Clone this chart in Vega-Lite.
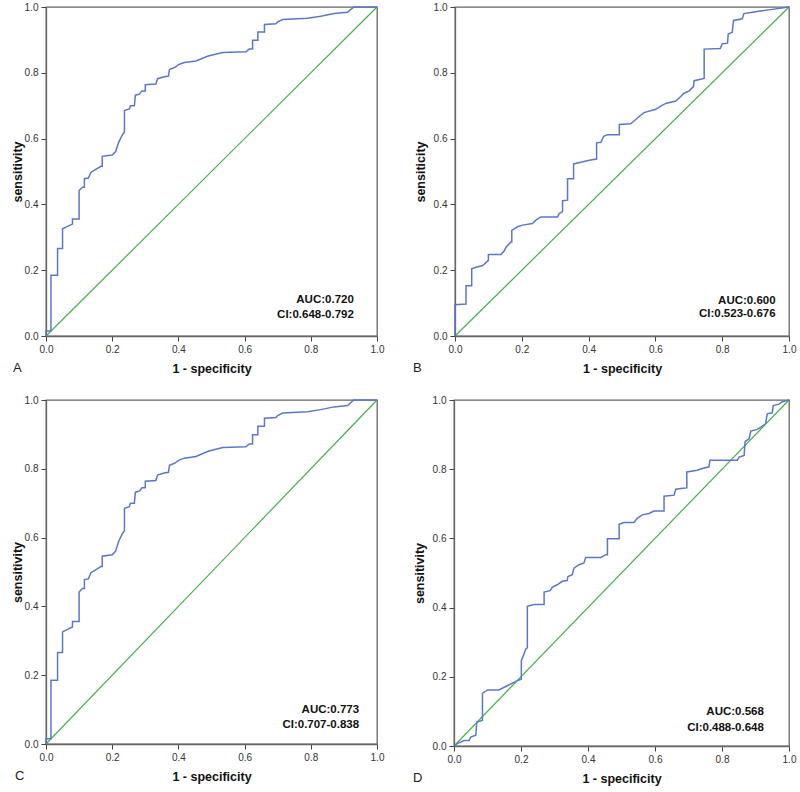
{
  "$schema": "https://vega.github.io/schema/vega-lite/v6.json",
  "background": "white",
  "padding": {"left": 10, "top": 1, "right": 5, "bottom": 2},
  "spacing": 18,
  "config": {
    "font": "Liberation Sans",
    "view": {"stroke": "#666666", "strokeWidth": 1.3},
    "axis": {
      "grid": false,
      "labelFont": "Liberation Sans",
      "labelFontSize": 10,
      "labelColor": "#333333",
      "labelPadding": 3,
      "labelFlush": false,
      "titleFont": "Liberation Sans",
      "titleFontSize": 12.5,
      "titleFontWeight": "bold",
      "titleColor": "#111111",
      "tickColor": "#444444",
      "tickSize": 5,
      "domainColor": "#666666",
      "domainWidth": 1.3
    },
    "axisX": {"titlePadding": 8},
    "axisY": {"titlePadding": 0},
    "title": {"font": "Liberation Sans", "fontSize": 13, "fontWeight": "normal", "color": "#222222"}
  },
  "datasets": {
    "diag": [{"x": 0, "y": 0}, {"x": 1, "y": 1}],
    "curveA": [
      {"x": 0, "y": 0}, {"x": 0, "y": 0.015}, {"x": 0.015, "y": 0.015}, {"x": 0.015, "y": 0.185}, {"x": 0.035, "y": 0.185}, {"x": 0.035, "y": 0.266}, {"x": 0.05, "y": 0.266}, {"x": 0.05, "y": 0.326}, {"x": 0.065, "y": 0.333}, {"x": 0.08, "y": 0.34}, {"x": 0.08, "y": 0.356}, {"x": 0.1, "y": 0.356}, {"x": 0.1, "y": 0.442}, {"x": 0.11, "y": 0.452}, {"x": 0.116, "y": 0.452}, {"x": 0.116, "y": 0.478}, {"x": 0.128, "y": 0.48}, {"x": 0.136, "y": 0.498}, {"x": 0.166, "y": 0.516}, {"x": 0.17, "y": 0.516}, {"x": 0.17, "y": 0.546}, {"x": 0.2, "y": 0.55}, {"x": 0.21, "y": 0.56}, {"x": 0.22, "y": 0.59}, {"x": 0.23, "y": 0.61}, {"x": 0.237, "y": 0.62}, {"x": 0.237, "y": 0.685}, {"x": 0.252, "y": 0.69}, {"x": 0.255, "y": 0.7}, {"x": 0.267, "y": 0.7}, {"x": 0.27, "y": 0.732}, {"x": 0.282, "y": 0.735}, {"x": 0.29, "y": 0.745}, {"x": 0.3, "y": 0.745}, {"x": 0.3, "y": 0.764}, {"x": 0.332, "y": 0.766}, {"x": 0.337, "y": 0.782}, {"x": 0.357, "y": 0.788}, {"x": 0.37, "y": 0.79}, {"x": 0.373, "y": 0.81}, {"x": 0.388, "y": 0.816}, {"x": 0.403, "y": 0.826}, {"x": 0.418, "y": 0.831}, {"x": 0.453, "y": 0.836}, {"x": 0.49, "y": 0.851}, {"x": 0.534, "y": 0.862}, {"x": 0.604, "y": 0.864}, {"x": 0.614, "y": 0.872}, {"x": 0.624, "y": 0.872}, {"x": 0.624, "y": 0.899}, {"x": 0.64, "y": 0.899}, {"x": 0.64, "y": 0.924}, {"x": 0.66, "y": 0.924}, {"x": 0.66, "y": 0.947}, {"x": 0.695, "y": 0.949}, {"x": 0.7, "y": 0.955}, {"x": 0.715, "y": 0.962}, {"x": 0.79, "y": 0.966}, {"x": 0.83, "y": 0.972}, {"x": 0.87, "y": 0.98}, {"x": 0.911, "y": 0.984}, {"x": 0.93, "y": 1.0}, {"x": 1, "y": 1}
    ],
    "curveB": [
      {"x": 0, "y": 0}, {"x": 0, "y": 0.095}, {"x": 0.033, "y": 0.097}, {"x": 0.033, "y": 0.153}, {"x": 0.05, "y": 0.153}, {"x": 0.05, "y": 0.204}, {"x": 0.063, "y": 0.209}, {"x": 0.083, "y": 0.214}, {"x": 0.1, "y": 0.23}, {"x": 0.1, "y": 0.248}, {"x": 0.138, "y": 0.248}, {"x": 0.148, "y": 0.26}, {"x": 0.153, "y": 0.27}, {"x": 0.167, "y": 0.286}, {"x": 0.17, "y": 0.286}, {"x": 0.17, "y": 0.321}, {"x": 0.187, "y": 0.332}, {"x": 0.202, "y": 0.337}, {"x": 0.232, "y": 0.342}, {"x": 0.242, "y": 0.352}, {"x": 0.257, "y": 0.362}, {"x": 0.307, "y": 0.362}, {"x": 0.312, "y": 0.372}, {"x": 0.322, "y": 0.378}, {"x": 0.322, "y": 0.411}, {"x": 0.337, "y": 0.413}, {"x": 0.337, "y": 0.478}, {"x": 0.355, "y": 0.478}, {"x": 0.355, "y": 0.523}, {"x": 0.377, "y": 0.528}, {"x": 0.402, "y": 0.534}, {"x": 0.424, "y": 0.538}, {"x": 0.424, "y": 0.587}, {"x": 0.437, "y": 0.589}, {"x": 0.445, "y": 0.607}, {"x": 0.457, "y": 0.612}, {"x": 0.492, "y": 0.612}, {"x": 0.492, "y": 0.643}, {"x": 0.526, "y": 0.645}, {"x": 0.541, "y": 0.658}, {"x": 0.556, "y": 0.671}, {"x": 0.566, "y": 0.679}, {"x": 0.601, "y": 0.689}, {"x": 0.616, "y": 0.699}, {"x": 0.631, "y": 0.707}, {"x": 0.661, "y": 0.714}, {"x": 0.676, "y": 0.728}, {"x": 0.686, "y": 0.738}, {"x": 0.701, "y": 0.745}, {"x": 0.714, "y": 0.758}, {"x": 0.716, "y": 0.776}, {"x": 0.746, "y": 0.783}, {"x": 0.746, "y": 0.872}, {"x": 0.794, "y": 0.874}, {"x": 0.8, "y": 0.888}, {"x": 0.816, "y": 0.89}, {"x": 0.818, "y": 0.918}, {"x": 0.83, "y": 0.923}, {"x": 0.834, "y": 0.959}, {"x": 0.86, "y": 0.964}, {"x": 0.865, "y": 0.98}, {"x": 0.895, "y": 0.985}, {"x": 0.945, "y": 0.992}, {"x": 1, "y": 1}
    ],
    "curveD": [
      {"x": 0, "y": 0}, {"x": 0.01, "y": 0.007}, {"x": 0.03, "y": 0.016}, {"x": 0.045, "y": 0.016}, {"x": 0.05, "y": 0.026}, {"x": 0.065, "y": 0.031}, {"x": 0.068, "y": 0.069}, {"x": 0.085, "y": 0.074}, {"x": 0.085, "y": 0.152}, {"x": 0.1, "y": 0.162}, {"x": 0.134, "y": 0.162}, {"x": 0.159, "y": 0.174}, {"x": 0.194, "y": 0.191}, {"x": 0.201, "y": 0.193}, {"x": 0.201, "y": 0.246}, {"x": 0.214, "y": 0.28}, {"x": 0.219, "y": 0.284}, {"x": 0.219, "y": 0.404}, {"x": 0.239, "y": 0.409}, {"x": 0.269, "y": 0.409}, {"x": 0.269, "y": 0.445}, {"x": 0.287, "y": 0.449}, {"x": 0.294, "y": 0.459}, {"x": 0.308, "y": 0.466}, {"x": 0.323, "y": 0.476}, {"x": 0.338, "y": 0.478}, {"x": 0.34, "y": 0.49}, {"x": 0.353, "y": 0.495}, {"x": 0.358, "y": 0.514}, {"x": 0.373, "y": 0.524}, {"x": 0.388, "y": 0.529}, {"x": 0.393, "y": 0.545}, {"x": 0.438, "y": 0.545}, {"x": 0.453, "y": 0.553}, {"x": 0.458, "y": 0.553}, {"x": 0.458, "y": 0.599}, {"x": 0.493, "y": 0.599}, {"x": 0.493, "y": 0.641}, {"x": 0.507, "y": 0.646}, {"x": 0.537, "y": 0.646}, {"x": 0.547, "y": 0.658}, {"x": 0.562, "y": 0.668}, {"x": 0.582, "y": 0.672}, {"x": 0.597, "y": 0.679}, {"x": 0.627, "y": 0.679}, {"x": 0.627, "y": 0.722}, {"x": 0.657, "y": 0.725}, {"x": 0.662, "y": 0.742}, {"x": 0.677, "y": 0.744}, {"x": 0.695, "y": 0.746}, {"x": 0.695, "y": 0.792}, {"x": 0.726, "y": 0.797}, {"x": 0.741, "y": 0.802}, {"x": 0.761, "y": 0.807}, {"x": 0.764, "y": 0.826}, {"x": 0.846, "y": 0.826}, {"x": 0.851, "y": 0.835}, {"x": 0.866, "y": 0.84}, {"x": 0.869, "y": 0.88}, {"x": 0.881, "y": 0.888}, {"x": 0.886, "y": 0.91}, {"x": 0.905, "y": 0.915}, {"x": 0.915, "y": 0.921}, {"x": 0.93, "y": 0.931}, {"x": 0.935, "y": 0.96}, {"x": 0.95, "y": 0.963}, {"x": 0.953, "y": 0.984}, {"x": 0.97, "y": 0.988}, {"x": 0.98, "y": 0.995}, {"x": 1, "y": 1}
    ],
    "lab": [
      {"panel": "A", "x": 0.93, "y": 0.11, "label": "AUC:0.720"},
      {"panel": "A", "x": 0.93, "y": 0.064, "label": "CI:0.648-0.792"},
      {"panel": "B", "x": 0.96, "y": 0.107, "label": "AUC:0.600"},
      {"panel": "B", "x": 0.96, "y": 0.066, "label": "CI:0.523-0.676"},
      {"panel": "C", "x": 0.946, "y": 0.099, "label": "AUC:0.773"},
      {"panel": "C", "x": 0.946, "y": 0.055, "label": "CI:0.707-0.838"},
      {"panel": "D", "x": 0.925, "y": 0.098, "label": "AUC:0.568"},
      {"panel": "D", "x": 0.925, "y": 0.052, "label": "CI:0.488-0.648"}
    ]
  },
  "vconcat": [
    {
      "spacing": 27,
      "hconcat": [
        {
          "width": 331, "height": 329,
          "title": {"text": "A", "orient": "bottom", "anchor": "start", "frame": "group", "offset": -13, "dx": -33},
          "encoding": {
            "x": {"field": "x", "type": "quantitative", "scale": {"domain": [0, 1], "nice": false}, "axis": {"title": "1 - specificity", "values": [0, 0.2, 0.4, 0.6, 0.8, 1], "format": ".1f"}},
            "y": {"field": "y", "type": "quantitative", "scale": {"domain": [0, 1], "nice": false}, "axis": {"title": "sensitivity", "values": [0, 0.2, 0.4, 0.6, 0.8, 1], "format": ".1f"}}
          },
          "layer": [
            {"data": {"name": "diag"}, "mark": {"type": "line", "color": "#44b04a", "strokeWidth": 1.2}},
            {"data": {"name": "curveA"}, "mark": {"type": "line", "color": "#5a78c6", "strokeWidth": 1.5}, "encoding": {"order": {"value": null}}},
            {"data": {"name": "lab"}, "transform": [{"filter": "datum.panel == 'A'"}], "mark": {"type": "text", "align": "right", "baseline": "middle", "fontSize": 11.5, "fontWeight": "bold", "color": "#111111"}, "encoding": {"text": {"field": "label"}}}
          ]
        },
        {
          "width": 334, "height": 329,
          "title": {"text": "B", "orient": "bottom", "anchor": "start", "frame": "group", "offset": -13, "dx": -42},
          "encoding": {
            "x": {"field": "x", "type": "quantitative", "scale": {"domain": [0, 1], "nice": false}, "axis": {"title": "1 - specificity", "values": [0, 0.2, 0.4, 0.6, 0.8, 1], "format": ".1f"}},
            "y": {"field": "y", "type": "quantitative", "scale": {"domain": [0, 1], "nice": false}, "axis": {"title": "sensiticity", "titlePadding": 6, "values": [0, 0.2, 0.4, 0.6, 0.8, 1], "format": ".1f"}}
          },
          "layer": [
            {"data": {"name": "diag"}, "mark": {"type": "line", "color": "#44b04a", "strokeWidth": 1.2}},
            {"data": {"name": "curveB"}, "mark": {"type": "line", "color": "#5a78c6", "strokeWidth": 1.5}, "encoding": {"order": {"value": null}}},
            {"data": {"name": "lab"}, "transform": [{"filter": "datum.panel == 'B'"}], "mark": {"type": "text", "align": "right", "baseline": "middle", "fontSize": 11.5, "fontWeight": "bold", "color": "#111111"}, "encoding": {"text": {"field": "label"}}}
          ]
        }
      ]
    },
    {
      "spacing": 27,
      "hconcat": [
        {
          "width": 331, "height": 344,
          "title": {"text": "C", "orient": "bottom", "anchor": "start", "frame": "group", "offset": -13, "dx": -31},
          "encoding": {
            "x": {"field": "x", "type": "quantitative", "scale": {"domain": [0, 1], "nice": false}, "axis": {"title": "1 - specificity", "values": [0, 0.2, 0.4, 0.6, 0.8, 1], "format": ".1f"}},
            "y": {"field": "y", "type": "quantitative", "scale": {"domain": [0, 1], "nice": false}, "axis": {"title": "sensitivity", "values": [0, 0.2, 0.4, 0.6, 0.8, 1], "format": ".1f"}}
          },
          "layer": [
            {"data": {"name": "diag"}, "mark": {"type": "line", "color": "#44b04a", "strokeWidth": 1.2}},
            {"data": {"name": "curveA"}, "mark": {"type": "line", "color": "#5a78c6", "strokeWidth": 1.5}, "encoding": {"order": {"value": null}}},
            {"data": {"name": "lab"}, "transform": [{"filter": "datum.panel == 'C'"}], "mark": {"type": "text", "align": "right", "baseline": "middle", "fontSize": 11.5, "fontWeight": "bold", "color": "#111111"}, "encoding": {"text": {"field": "label"}}}
          ]
        },
        {
          "width": 335, "height": 346,
          "title": {"text": "D", "orient": "bottom", "anchor": "start", "frame": "group", "offset": -13, "dx": -41},
          "encoding": {
            "x": {"field": "x", "type": "quantitative", "scale": {"domain": [0, 1], "nice": false}, "axis": {"title": "1 - specificity", "values": [0, 0.2, 0.4, 0.6, 0.8, 1], "format": ".1f"}},
            "y": {"field": "y", "type": "quantitative", "scale": {"domain": [0, 1], "nice": false}, "axis": {"title": "sensitivity", "titlePadding": 6, "values": [0, 0.2, 0.4, 0.6, 0.8, 1], "format": ".1f"}}
          },
          "layer": [
            {"data": {"name": "diag"}, "mark": {"type": "line", "color": "#44b04a", "strokeWidth": 1.2}},
            {"data": {"name": "curveD"}, "mark": {"type": "line", "color": "#5a78c6", "strokeWidth": 1.5}, "encoding": {"order": {"value": null}}},
            {"data": {"name": "lab"}, "transform": [{"filter": "datum.panel == 'D'"}], "mark": {"type": "text", "align": "right", "baseline": "middle", "fontSize": 11.5, "fontWeight": "bold", "color": "#111111"}, "encoding": {"text": {"field": "label"}}}
          ]
        }
      ]
    }
  ]
}
